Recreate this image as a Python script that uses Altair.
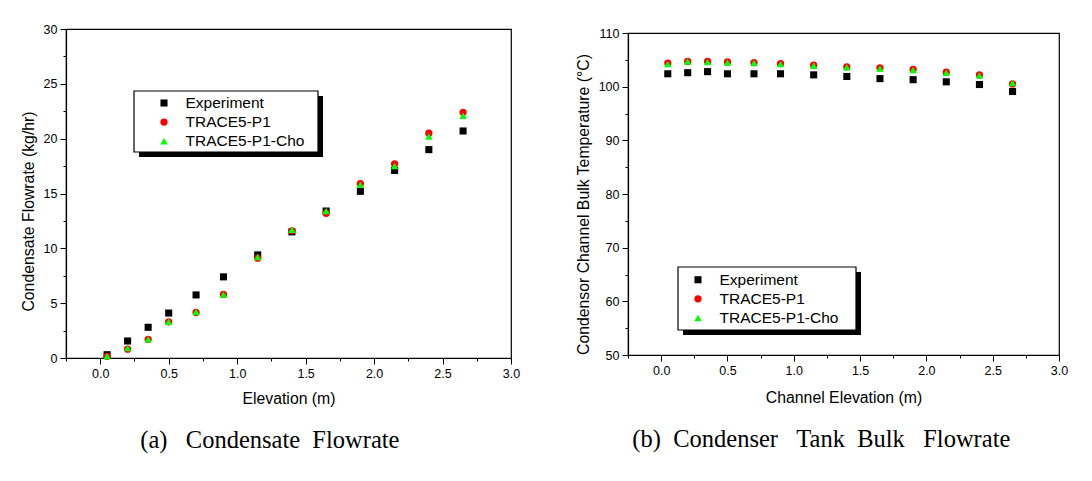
import altair as alt
import pandas as pd

series = ["Experiment", "TRACE5-P1", "TRACE5-P1-Cho"]
colors = ["#000000", "#ff0000", "#00ff00"]
shapes = ["square", "circle", "triangle-up"]
sizes = [50, 56, 66]

elev = [0.05, 0.2, 0.35, 0.5, 0.7, 0.9, 1.15, 1.4, 1.65, 1.9, 2.15, 2.4, 2.65]

flow_exp = [0.3, 1.55, 2.8, 4.1, 5.75, 7.4, 9.4, 11.5, 13.4, 15.2, 17.1, 19.0, 20.7]
flow_p1 = [0.15, 0.8, 1.7, 3.3, 4.15, 5.8, 9.1, 11.6, 13.2, 15.9, 17.7, 20.5, 22.4]
flow_cho = [0.15, 0.9, 1.7, 3.3, 4.2, 5.8, 9.2, 11.7, 13.4, 15.8, 17.5, 20.2, 22.1]

temp_exp = [102.4, 102.6, 102.8, 102.4, 102.4, 102.4, 102.2, 101.9, 101.5, 101.3, 100.9, 100.4, 99.1]
temp_p1 = [104.4, 104.7, 104.7, 104.6, 104.5, 104.3, 104.0, 103.7, 103.5, 103.2, 102.7, 102.2, 100.5]
temp_cho = [104.2, 104.7, 104.6, 104.5, 104.4, 104.2, 103.9, 103.6, 103.4, 103.1, 102.6, 102.1, 100.7]

x_ticks = [-0.25, 0.0, 0.25, 0.5, 0.75, 1.0, 1.25, 1.5, 1.75, 2.0, 2.25, 2.5, 2.75, 3.0]
y1_ticks = [0, 2.5, 5, 7.5, 10, 12.5, 15, 17.5, 20, 22.5, 25, 27.5, 30]
y2_ticks = [50, 55, 60, 65, 70, 75, 80, 85, 90, 95, 100, 105, 110]

SANS = "Liberation Sans"
SERIF = "Liberation Serif"
NB = "\u00a0"


def long_df(ys):
    rows = []
    for s, vals in zip(series, ys):
        for x, y in zip(elev, vals):
            rows.append({"series": s, "x": x, "y": y})
    return pd.DataFrame(rows)


def panel(df, xtitle, ytitle, ydom, yticks, ymajor, w, h, ytx, yty, xty,
          legx, legy, lab_off, rowpad, box, caption, cap_off):
    x_axis = alt.Axis(
        values=x_ticks,
        labelExpr="datum.value % 0.5 === 0 ? format(datum.value, '.1f') : ''",
        tickSize={"condition": {"test": "datum.value % 0.5 === 0", "value": 6}, "value": 3},
        title=xtitle, titleY=xty, titleBaseline="middle", titleAlign="center",
        labelFlush=False, labelOverlap=False, grid=False,
    )
    y_axis = alt.Axis(
        values=yticks,
        labelExpr=f"datum.value % {ymajor} === 0 ? format(datum.value, 'd') : ''",
        tickSize={"condition": {"test": f"datum.value % {ymajor} === 0", "value": 6}, "value": 3},
        title=ytitle, titleX=ytx, titleY=yty, titleAngle=270,
        titleBaseline="middle", titleAlign="center",
        labelFlush=False, labelOverlap=False, grid=False,
    )
    legend = alt.Legend(
        orient="none", legendX=legx, legendY=legy, title=None,
        padding=0, symbolOffset=0, labelOffset=lab_off, rowPadding=rowpad,
        labelFont=SANS, labelFontSize=15.5, labelColor="black",
        symbolStrokeWidth=0, symbolSize=56,
    )
    pts = alt.Chart(df).mark_point(filled=True, opacity=1, strokeWidth=0).encode(
        x=alt.X("x:Q", scale=alt.Scale(domain=[-0.25, 3.0], nice=False, zero=False), axis=x_axis),
        y=alt.Y("y:Q", scale=alt.Scale(domain=ydom, nice=False, zero=False), axis=y_axis),
        color=alt.Color("series:N", scale=alt.Scale(domain=series, range=colors), legend=legend),
        shape=alt.Shape("series:N", scale=alt.Scale(domain=series, range=shapes), legend=legend),
        size=alt.Size("series:N", scale=alt.Scale(domain=series, range=sizes), legend=None),
    )
    dummy = pd.DataFrame({"k": [0]})
    bx0, bx1, by0, by1 = box
    shadow = alt.Chart(dummy).mark_rect(color="black").encode(
        x=alt.value(bx0 + 5), x2=alt.value(bx1 + 5),
        y=alt.value(by0 + 5), y2=alt.value(by1 + 5),
    )
    frame = alt.Chart(dummy).mark_rect(fill="white", stroke="black", strokeWidth=1.2).encode(
        x=alt.value(bx0), x2=alt.value(bx1),
        y=alt.value(by0), y2=alt.value(by1),
    )
    return alt.layer(shadow, frame, pts).properties(
        width=w, height=h,
        title=alt.TitleParams(
            text=caption, orient="bottom", frame="bounds", anchor="middle",
            font=SERIF, fontSize=24.5, fontWeight="normal", color="black", offset=cap_off,
        ),
    )


left = panel(
    long_df([flow_exp, flow_p1, flow_cho]),
    "Elevation (m)", "Condensate Flowrate (kg/hr)", [0, 30], y1_ticks, 5,
    445, 329, -38, 182, 40,
    90.25, 66.25, 13.75, 2.1, (68, 252, 62, 123),
    "(a)" + NB * 3 + "Condensate" + NB * 2 + "Flowrate", 23,
)
right = panel(
    long_df([temp_exp, temp_p1, temp_cho]),
    "Channel Elevation (m)", "Condensor Channel Bulk Temperature (\u00b0C)", [50, 110], y2_ticks, 10,
    431, 322, -45, 171, 42,
    62.25, 243, 13.75, 2.1, (50, 228, 234, 297),
    "(b)" + NB * 2 + "Condenser" + NB * 3 + "Tank" + NB * 2 + "Bulk" + NB * 3 + "Flowrate", 23,
)

spacer = alt.Chart(pd.DataFrame({"k": [0]})).mark_point(opacity=0).encode(
    x=alt.value(0), y=alt.value(0)
).properties(width=431, height=4, view=alt.ViewBackground(strokeOpacity=0))

right_col = alt.vconcat(spacer, right, spacing=0, bounds="flush")

chart = alt.hconcat(left, right_col, spacing=53).resolve_scale(
    color="independent", shape="independent", size="independent"
).properties(
    padding={"left": 11, "top": 14, "right": 0, "bottom": 0}
).configure_view(
    stroke="black", strokeWidth=1.2
).configure_axis(
    domainColor="black", domainWidth=1.2, tickColor="black", tickWidth=1,
    labelFont=SANS, labelFontSize=12.5, labelColor="black", labelPadding=3,
    titleFont=SANS, titleFontSize=15.8, titleFontWeight="normal", titleColor="black",
)

chart.save("out.html", embed_options={"renderer": "svg", "actions": False})
